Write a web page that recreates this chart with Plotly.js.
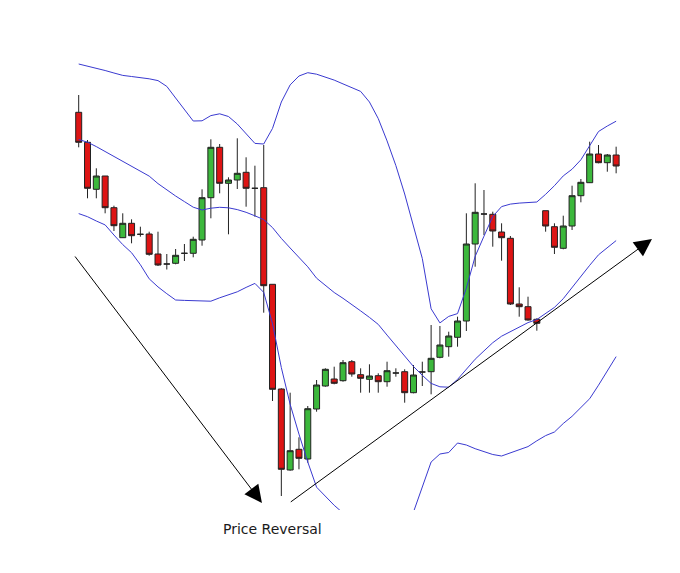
<!DOCTYPE html>
<html>
<head>
<meta charset="utf-8">
<script src="https://cdn.plot.ly/plotly-3.0.1.min.js"></script>
<style>html,body{margin:0;padding:0;background:#fff;}#chart{width:680px;height:573px;}</style>
</head>
<body>
<div id="chart"></div>
<script>
// Candle data (price units), one value per session
var openP = [460.7,430.7,383.7,397,365.3,335.3,349.7,338.7,339,319,
  309,309.7,319.7,319.7,333,375.3,425.7,389.7,393,400.7,
  384.7,385.3,288.7,184,103,123.7,114,164,187,194,
  192.3,211.3,198.3,193.7,197.3,191.3,200,201.3,180.3,201,
  201.3,215.7,226.3,235.7,252,329,359,358.7,341,334.7,
  269,266.3,253.7,362.3,346.3,324.7,347,377.3,390.3,419,
  410.3,418];
var highP = [478,433,404.7,397,367.3,359.7,353.7,346.3,341.3,341.3,
  319,324,329,336.3,383.7,433.7,429,395.7,434.7,415.7,
  407.3,428,288.7,184.7,180.3,135.7,167,193,204.7,206.3,
  213,213,204.7,208.7,199.7,211.3,204.7,203.7,208,211.3,
  248,247,241.3,256.3,359.7,389.7,383,361.3,349.7,337,
  285.7,276.3,254.7,362.3,349.7,357.3,387.3,394,431.3,428,
  419,426.3];
var lowP = [425.7,374.7,374.7,359.7,342,335,329.7,336.3,317.3,307,
  303.5,308.7,312,315.7,327.3,354.7,379.7,338.7,384,366.3,
  356.3,260.3,172,77,102.3,103.7,110.3,161.3,186.3,188.7,
  191.3,196.3,180.3,180.3,180.3,186.3,196.3,170.3,179.7,187,
  178.7,214.7,216.3,226.3,242,306.3,338,326.3,312.3,268,
  256.3,252.3,242.3,341.3,319,323.7,343,370.7,390,409.7,
  401.3,399.7];
var closeP = [430.7,384.7,397,365.3,347.3,349.7,337.3,338.7,318.7,308,
  309,317.7,319.7,333.7,375.3,425.7,389.7,393,399.7,384.7,
  384.7,287.3,183.7,103.7,122.3,114.7,164.3,188,203.7,189.7,
  210.3,199,194.7,197,191.3,202.3,200,180.3,198,201,
  214.7,228,237,252,329,360.7,359,342,335.3,269,
  266.3,253,249.7,347,325.7,347,377.3,390.7,419,410.3,
  418,407];

// Bollinger bands, one value per session (null = off the chart)
var upperBand = [509,507,505,502.5,500,497.6,496.5,495.4,494.2,492.4,
  486.6,475,464,452,452.2,457.4,459.2,456.5,449,439,
  429.6,429,444.6,471,488.1,497,500.3,498.8,495.9,492.9,
  489.1,485.4,481.6,471,454.4,432.1,407.4,379,347,314.5,
  264.2,250.1,256.6,259.4,284.8,316.6,336.8,356.5,366.4,368.9,
  369.9,370.4,371,378.7,387.3,397.1,403.8,413.2,427.4,441.5,
  447,451.8];
var middleBand = [433.5,430.8,426.4,421.4,416.4,411.4,406.8,401.7,396.9,389.4,
  382.8,377,371.4,365.8,363,364.8,365.7,365.2,363.4,360.7,
  357.2,353.4,345.4,334.6,325,315.8,306.2,294.8,287.5,280.5,
  274.7,268.7,262.1,255.6,248.6,237.9,227.1,216.5,206.5,197.7,
  189.6,186.2,185.8,193.6,203.3,213.8,222.1,230.3,236.8,241.4,
  245.9,250.4,253.5,259.2,265.6,274.3,285.5,297.1,307.7,318.2,
  325.6,332.4];
var lowerBand = [359.4,356.3,352,348.1,338,328.4,320.3,308.3,294.2,286.1,
  279.3,273,272.6,272.1,271.7,271.8,275.2,278.1,281.2,285.6,
  289.6,280.6,249.3,205.4,168.7,138.9,111,85.8,76.6,67.7,
  60,null,null,null,null,null,null,null,61,86.3,
  111,119,120.5,130,128,124.3,121.5,118.5,117,120,
  123,126.4,132.2,137.4,141,149.5,156.7,166,174.3,187.8,
  202.5,216.4];

// Trend arrows: [start session, start price, end session, end price]
var downTrend = [-0.54, 318, 20.8, 70];
var upTrend = [23.9, 70, 65.07, 334];
var labelText = 'Price Reversal';
var labelSession = 22;

var sessions = openP.map(function(_, i){ return i; });

var bandLine = {color: 'rgb(58,58,208)', width: 1};

var traces = [
  {type: 'scatter', mode: 'lines', x: sessions, y: upperBand, line: bandLine, connectgaps: false, hoverinfo: 'skip'},
  {type: 'scatter', mode: 'lines', x: sessions, y: middleBand, line: bandLine, connectgaps: false, hoverinfo: 'skip'},
  {type: 'scatter', mode: 'lines', x: sessions, y: lowerBand, line: bandLine, connectgaps: false, hoverinfo: 'skip'},
  {type: 'candlestick', x: sessions, open: openP, high: highP, low: lowP, close: closeP,
   increasing: {fillcolor: '#3cb83c', line: {color: '#222222', width: 1}},
   decreasing: {fillcolor: '#dd1414', line: {color: '#222222', width: 1}},
   whiskerwidth: 0, hoverinfo: 'skip'}
];

var layout = {
  width: 680, height: 573,
  margin: {l: 0, r: 0, t: 0, b: 63, pad: 0},
  paper_bgcolor: '#ffffff', plot_bgcolor: '#ffffff',
  showlegend: false, hovermode: false,
  boxgap: 0.32, boxgroupgap: 0,
  xaxis: {range: [-8.933, 68.25], visible: false, rangeslider: {visible: false}, fixedrange: true},
  yaxis: {range: [63, 573], visible: false, fixedrange: true},
  annotations: [
    {x: downTrend[2], y: downTrend[3], xref: 'x', yref: 'y', ax: downTrend[0], ay: downTrend[1], axref: 'x', ayref: 'y',
     text: '', showarrow: true, arrowhead: 2, arrowsize: 3.5, arrowwidth: 1, arrowcolor: '#000000', standoff: 0},
    {x: upTrend[2], y: upTrend[3], xref: 'x', yref: 'y', ax: upTrend[0], ay: upTrend[1], axref: 'x', ayref: 'y',
     text: '', showarrow: true, arrowhead: 2, arrowsize: 3.5, arrowwidth: 1, arrowcolor: '#000000', standoff: 0},
    {x: labelSession, y: -0.037, xref: 'x', yref: 'paper', text: labelText, showarrow: false,
     xanchor: 'center', yanchor: 'middle', font: {family: 'DejaVu Sans', size: 14, color: '#1a1a1a'}}
  ]
};

Plotly.newPlot('chart', traces, layout, {displayModeBar: false, staticPlot: true});
</script>
</body>
</html>
